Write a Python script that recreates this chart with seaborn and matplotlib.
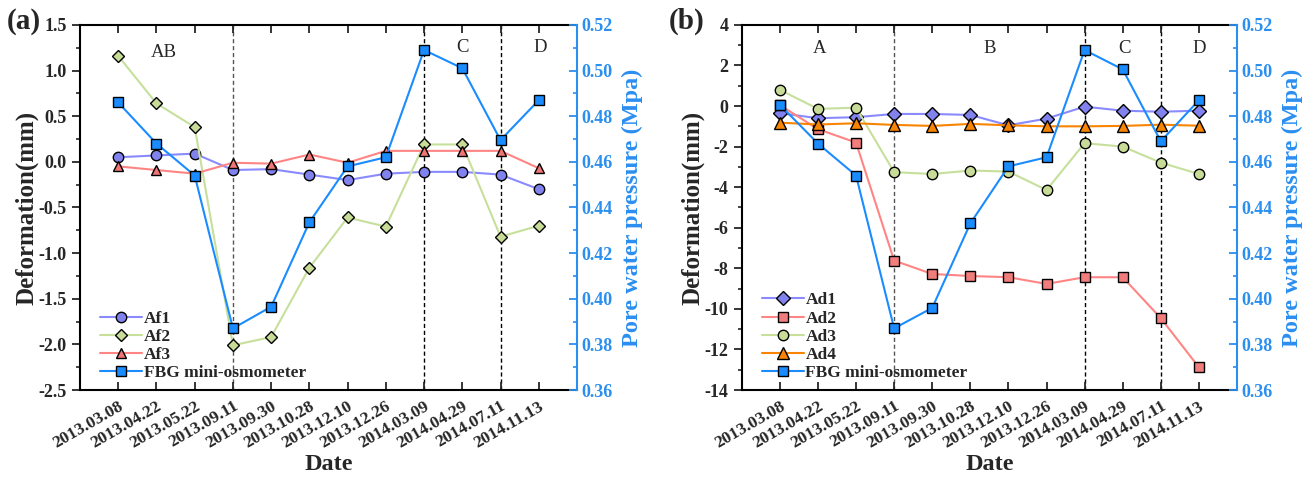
import numpy as np
import pandas as pd
import matplotlib
matplotlib.use("Agg")
import matplotlib.pyplot as plt
import seaborn as sns
from matplotlib.ticker import MultipleLocator

# ---------------- data ----------------
dates = ["2013.03.08", "2013.04.22", "2013.05.22", "2013.09.11", "2013.09.30",
         "2013.10.28", "2013.12.10", "2013.12.26", "2014.03.09", "2014.04.29",
         "2014.07.11", "2014.11.13"]

af1 = [0.05, 0.07, 0.09, -0.09, -0.08, -0.14, -0.20, -0.13, -0.11, -0.11, -0.14, -0.30]
af2 = [1.16, 0.64, 0.38, -2.01, -1.92, -1.16, -0.61, -0.71, 0.19, 0.19, -0.82, -0.70]
af3 = [-0.05, -0.09, -0.13, -0.01, -0.02, 0.08, -0.01, 0.12, 0.12, 0.12, 0.12, -0.07]
fbg_a = [0.486, 0.468, 0.454, 0.387, 0.3965, 0.4335, 0.458, 0.462, 0.509, 0.501, 0.4695, 0.487]

ad1 = [-0.35, -0.60, -0.55, -0.39, -0.39, -0.44, -0.95, -0.62, -0.03, -0.23, -0.28, -0.23]
ad2 = [0.05, -1.14, -1.80, -7.62, -8.28, -8.38, -8.44, -8.77, -8.44, -8.44, -10.46, -12.88]
ad3 = [0.80, -0.14, -0.08, -3.26, -3.35, -3.18, -3.23, -4.14, -1.83, -2.00, -2.79, -3.35]
ad4 = [-0.82, -0.91, -0.85, -0.93, -0.98, -0.88, -0.95, -1.00, -1.00, -0.98, -0.92, -0.97]
fbg_b = [0.485, 0.468, 0.454, 0.387, 0.396, 0.433, 0.458, 0.462, 0.509, 0.5005, 0.469, 0.487]

boundaries = ["2013.09.11", "2014.03.09", "2014.07.11"]
zones_a = [("AB", 1.2, 1.2), ("C", 9.0, 1.25), ("D", 11.05, 1.25)]
zones_b = [("A", 1.05, 2.85), ("B", 5.5, 2.85), ("C", 9.05, 2.85), ("D", 11.0, 2.85)]

# ---------------- style ----------------
sns.set_style("ticks")
plt.rcParams["font.family"] = ["Liberation Serif", "DejaVu Serif"]
plt.rcParams["font.weight"] = "bold"
plt.rcParams["axes.labelweight"] = "bold"
plt.rcParams["axes.linewidth"] = 1.5
plt.rcParams["axes.unicode_minus"] = False

BLUE = "#1a8cff"
RIGHT = "#2b8ff0"

fig = plt.figure(figsize=(13.14, 4.79), dpi=100)
ax_a = fig.add_axes([0.0609, 0.1858, 0.3782, 0.7622])
ax_b = fig.add_axes([0.5645, 0.1858, 0.3769, 0.7622])


def draw_series(ax, y, label, marker, line_color, face_color, ms=7):
    df = pd.DataFrame({"Date": dates, "v": y})
    sns.lineplot(data=df, x="Date", y="v", ax=ax, sort=False, color=line_color,
                 marker=marker, markersize=ms, markerfacecolor=face_color,
                 markeredgecolor="black", markeredgewidth=1.0, linewidth=1.5,
                 label=label, legend=False)


def setup_panel(ax, series, fbg, ylim, ymaj, ymin, zones, tag, leg_y):
    for (vals, label, marker, lc, fc, ms) in series:
        draw_series(ax, vals, label, marker, lc, fc, ms)
    ax2 = ax.twinx()
    draw_series(ax2, fbg, "FBG mini-osmometer", "s", BLUE, BLUE, 6.5)

    ax.set_xlim(-1, 12)
    ax.set_ylim(*ylim)
    ax.yaxis.set_major_locator(MultipleLocator(ymaj))
    ax.yaxis.set_minor_locator(MultipleLocator(ymin))
    ax2.set_ylim(0.36, 0.52)
    ax2.yaxis.set_major_locator(MultipleLocator(0.02))
    ax2.yaxis.set_minor_locator(MultipleLocator(0.01))

    # vertical boundary lines
    for i, b in enumerate(boundaries):
        pos = dates.index(b)
        ax.axvline(pos, color="#555555" if i == 0 else "black",
                   linestyle=(0, (3, 2)), linewidth=1.0, zorder=0)

    for txt, xx, yy in zones:
        ax.text(xx, yy, txt, fontsize=13.5, fontweight="normal", ha="center", va="center")

    ax.set_xlabel("Date", fontsize=17.5, fontweight="bold", labelpad=2)
    ax.set_ylabel("Deformation(mm)", fontsize=18, fontweight="bold", labelpad=0)
    ax2.set_ylabel("Pore water pressure (Mpa)", fontsize=17.5, fontweight="bold",
                   color=RIGHT, labelpad=6)

    ax.tick_params(axis="x", which="both", direction="in", top=True, length=6,
                   width=1.3, labelsize=12.5, pad=6)
    ax.tick_params(axis="y", which="major", direction="out", length=6, width=1.3,
                   labelsize=13)
    ax.tick_params(axis="y", which="minor", direction="out", length=3, width=1.2)
    plt.setp(ax.get_xticklabels(), rotation=30, ha="right", rotation_mode="anchor",
             fontweight="bold")
    plt.setp(ax.get_yticklabels(), fontweight="bold")

    ax2.tick_params(axis="y", which="major", direction="in", length=6, width=1.3,
                    colors=RIGHT, labelsize=13)
    ax2.tick_params(axis="y", which="minor", direction="in", length=3, width=1.2,
                    colors=RIGHT)
    plt.setp(ax2.get_yticklabels(), fontweight="bold")
    ax2.spines["right"].set_color(RIGHT)
    ax2.spines["right"].set_linewidth(1.5)
    for s in ["top", "left", "bottom"]:
        ax.spines[s].set_visible(True)
        ax.spines[s].set_color("black")
    ax.spines["right"].set_visible(False)
    ax2.spines["left"].set_visible(False)
    ax2.spines["top"].set_visible(False)
    ax2.spines["bottom"].set_visible(False)

    h1, l1 = ax.get_legend_handles_labels()
    h2, l2 = ax2.get_legend_handles_labels()
    leg = ax2.legend(h1 + h2, l1 + l2, loc="lower left", bbox_to_anchor=(0.02, leg_y),
                     frameon=False, handlelength=2.4, handletextpad=0.1,
                     labelspacing=0.12, borderaxespad=0.2,
                     prop={"family": "Liberation Serif", "weight": "bold", "size": 12.5})
    leg.set_zorder(10)
    fig.text(ax.get_position().x0 - 0.0555, 0.955, tag, fontsize=21,
             fontweight="bold", ha="left", va="center")
    return ax2


setup_panel(ax_a,
            [(af1, "Af1", "o", "#8a8aff", "#8282ee", 7.5),
             (af2, "Af2", "D", "#c6e09c", "#c8dc98", 6.5),
             (af3, "Af3", "^", "#ff8585", "#f07676", 7.5)],
            fbg_a, (-2.5, 1.5), 0.5, 0.25, zones_a, "(a)", -0.005)

setup_panel(ax_b,
            [(ad1, "Ad1", "D", "#8a8aff", "#8282ee", 7),
             (ad2, "Ad2", "s", "#ff8585", "#f27d7d", 6.5),
             (ad3, "Ad3", "o", "#c6e09c", "#c8dc98", 7.5),
             (ad4, "Ad4", "^", "#f88400", "#f88400", 8)],
            fbg_b, (-14, 4), 2, 1, zones_b, "(b)", -0.005)

fig.savefig("out.png", dpi=100)
